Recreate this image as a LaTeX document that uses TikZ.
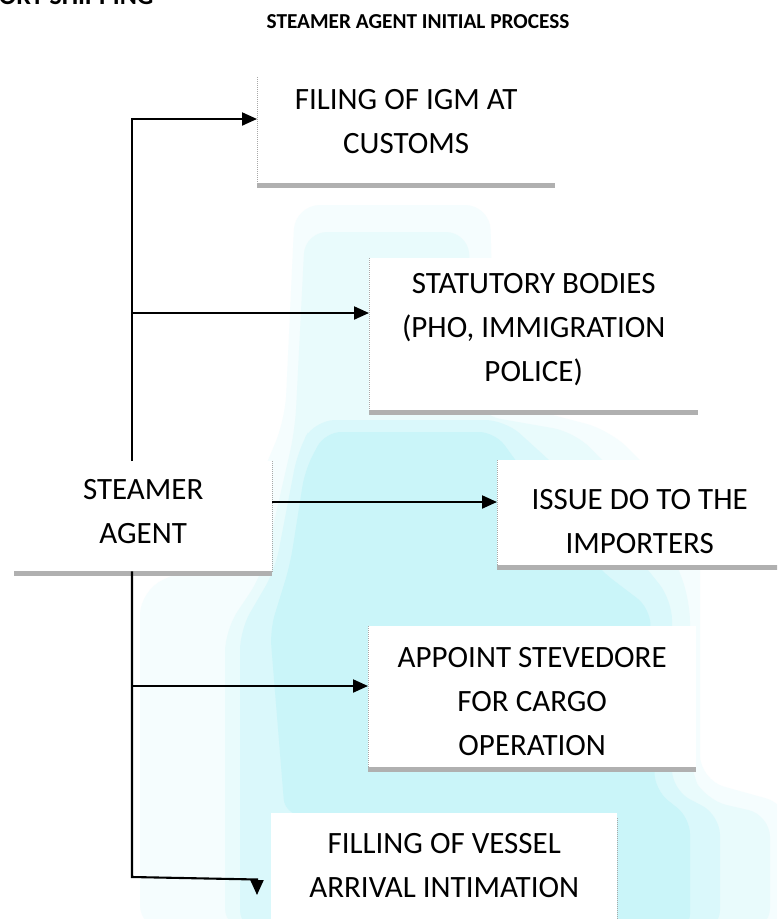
\documentclass[tikz,border=0pt]{standalone}
\usepackage{fontspec}
\setmainfont{Carlito}
\usetikzlibrary{arrows.meta}

\definecolor{wmlayerA}{HTML}{F5FDFE}
\definecolor{wmlayerB}{HTML}{E9FBFC}
\definecolor{wmlayerC}{HTML}{DAF8FB}
\definecolor{wmlayerD}{HTML}{CAF5F9}
\definecolor{edgegray}{HTML}{A8A8A8}
\definecolor{shadowgray}{HTML}{B0B0B0}

% vertical padding above the first line and below the last line of a box
\newcommand\topgap[1]{\rule{0pt}{#1pt}}
\newcommand\botgap[1]{\rule[-#1pt]{0pt}{#1pt}}

\tikzset{
  procbox/.style={rectangle, fill=white, inner sep=0pt, align=center,
    font=\fontsize{31}{44}\selectfont, anchor=north west},
  conn/.style={line width=2.1pt, black, line join=miter},
  arr/.style={conn, -{Triangle[length=15pt,width=13pt]}},
  boxedge/.style={edgegray, line width=0.6pt, dash pattern=on 1pt off 1pt},
  boxshadow/.style={shadowgray, line width=4.6pt},
}

\begin{document}
\begin{tikzpicture}[x=1pt, y=-1pt]
  \useasboundingbox (0,0) rectangle (777,919);
  \clip (0,0) rectangle (777,919);
  \fill[white] (0,0) rectangle (777,919);

  % soft cyan background mark, built up from light to dense layers
  \fill[wmlayerA, rounded corners=25pt]
    (295,205) -- (490,205) -- (495,400) -- (610,430) -- (700,520) -- (700,780)
    -- (790,805) -- (790,930) -- (140,930) -- (140,590) -- (230,550) -- (285,420) -- cycle;
  \fill[wmlayerB, rounded corners=22pt]
    (305,232) -- (468,232) -- (478,415) -- (575,432) -- (660,520) -- (690,600)
    -- (690,770) -- (705,800) -- (770,815) -- (770,930) -- (225,930) -- (225,630)
    -- (262,575) -- (295,430) -- cycle;
  \fill[wmlayerC, rounded corners=20pt]
    (315,420) -- (505,420) -- (560,470) -- (640,560) -- (672,600) -- (672,790)
    -- (720,815) -- (720,930) -- (240,930) -- (240,630) -- (275,570) -- (298,450) -- cycle;
  \fill[wmlayerD, rounded corners=16pt]
    (325,432) -- (495,432) -- (530,480) -- (600,570) -- (650,608) -- (655,790)
    -- (690,818) -- (690,930) -- (600,930) -- (600,818) -- (285,815) -- (270,630)
    -- (290,565) -- (305,470) -- cycle;

  % process boxes
  \node[procbox, minimum width=298pt] (igm) at (257,77)
    {\topgap{32}FILING OF IGM AT\\CUSTOMS\botgap{30}};
  \node[procbox, minimum width=329pt] (stat) at (369,258)
    {\topgap{35}STATUTORY BODIES\\(PHO, IMMIGRATION\\POLICE)\botgap{29}};
  \node[procbox, minimum width=258pt] (agent) at (14,461)
    {\topgap{38}STEAMER\\AGENT\botgap{28}};
  \node[procbox, minimum width=285pt] (issue) at (497,460)
    {\topgap{49}ISSUE DO TO THE\\IMPORTERS\botgap{12}};
  \node[procbox, minimum width=328pt] (stev) at (368,626)
    {\topgap{41}APPOINT STEVEDORE\\FOR CARGO\\OPERATION\botgap{12}};
  \node[procbox, minimum width=346pt] (vessel) at (271,813)
    {\topgap{40}FILLING OF VESSEL\\ARRIVAL INTIMATION\botgap{63}};

  % thin box edges
  \draw[boxedge] (igm.north west) -- (igm.south west);
  \draw[boxedge] (stat.north west) -- (stat.south west);
  \draw[boxedge] (agent.north east) -- (agent.south east);
  \draw[boxedge] (issue.north west) -- (issue.south west);
  \draw[boxedge] (stev.north west) -- (stev.south west);
  \draw[boxedge] ([yshift=-5pt]vessel.north east) -- (vessel.south east);

  % bottom shadow bars
  \foreach \b in {igm, stat, agent, issue, stev}
    \draw[boxshadow] ([yshift=-2.3pt]\b.south west) -- ([yshift=-2.3pt]\b.south east);

  % connector junctions
  \coordinate (j1) at (132,119);
  \coordinate (j2) at (132,313);
  \coordinate (j3) at (agent.east |- 0,502);
  \coordinate (j4) at (132,686);
  \coordinate (j5) at (132,877);
  \coordinate (k5) at (257,879.5);
  \coordinate (t5) at (257,895);

  % connectors
  \draw[arr] (j1 |- agent.north) -- (j1) -- (j1 -| igm.west);
  \draw[arr] (j2) -- (j2 -| stat.west);
  \draw[arr] (j3) -- (j3 -| issue.west);
  \draw[arr] (j4) -- (j4 -| stev.west);
  \draw[arr] (j1 |- agent.south) -- (j5) -- (k5) -- (t5);

  % headings
  \node[anchor=base east, font=\bfseries\fontsize{26}{30}\selectfont] (hdr) at (157,4)
    {IMPORT SHIPPING};
  \node[anchor=base, font=\bfseries\fontsize{21.3}{24}\selectfont] (title) at (418,28)
    {STEAMER AGENT INITIAL PROCESS};
\end{tikzpicture}
\end{document}
